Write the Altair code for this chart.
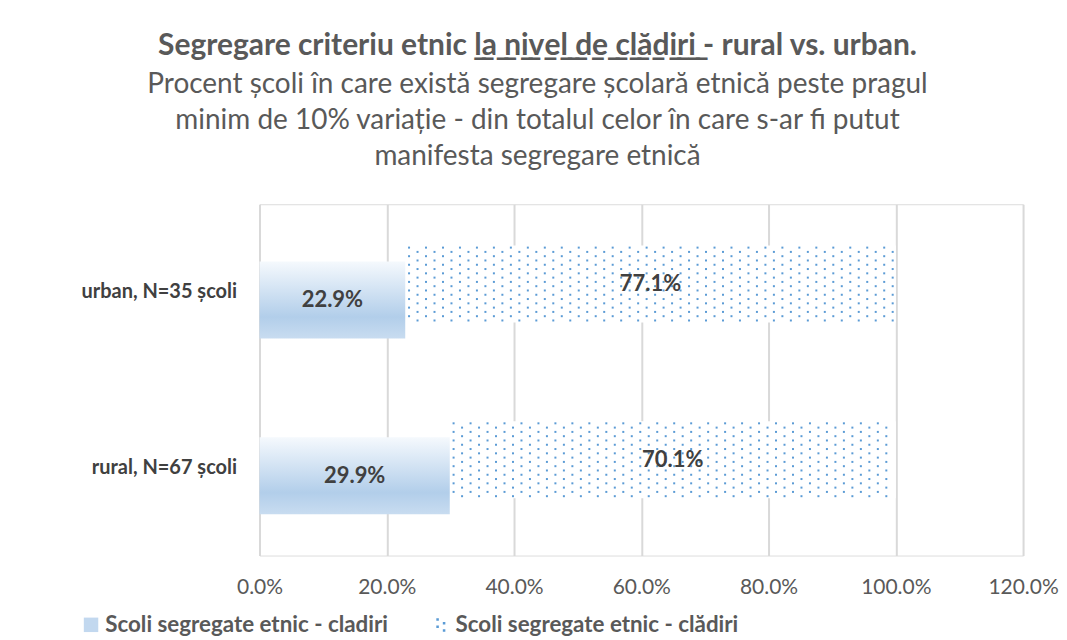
import altair as alt
import pandas as pd

# ---- data ----
categories = ["urban, N=35 școli", "rural, N=67 școli"]
series_names = ["Scoli segregate etnic - cladiri", "Scoli segregate etnic - clădiri"]
seg_values = [22.9, 29.9]      # gradient series (%)
rest_values = [77.1, 70.1]     # dotted series (%)
x_ticks = [0, 20, 40, 60, 80, 100, 120]

UL = "\u0332"  # combining low line, used to underline part of the title
title_line = ("Segregare criteriu etnic " + UL + "".join(c + UL for c in "la nivel de clădiri")
              + " - rural vs. urban.")
subtitle_lines = [
    "Procent școli în care există segregare școlară etnică peste pragul",
    "minim de 10% variație - din totalul celor în care s-ar fi putut",
    "manifesta segregare etnică",
]

FONT = "Lato"
GREY = "#595959"
DARK = "#404040"
DOT_BLUE = "#5B9BD5"

# ---- tables ----
ends = [s + r for s, r in zip(seg_values, rest_values)]
seg_df = pd.DataFrame({
    "cat": categories,
    "x0": [0.0] * len(categories),
    "x1": [v / 100 for v in seg_values],
    "label": [f"{v:.1f}%" for v in seg_values],
})
rest_df = pd.DataFrame({
    "cat": categories,
    "x0": [v / 100 for v in seg_values],
    "x1": [v / 100 for v in ends],
    "label": [f"{v:.1f}%" for v in rest_values],
})

# dot texture for the patterned series (decorative fill of each bar's extent)
tex = []
n_rows = 18
for cat, s, e in zip(categories, seg_values, ends):
    for r in range(n_rows):
        x = s + 0.6 + (1.333 if r % 2 else 0.0)
        while x < e - 0.3:
            tex.append({"cat": cat, "row": r, "x": x / 100})
            x += 2.667
tex_df = pd.DataFrame(tex)

legend_df = pd.DataFrame({"series": series_names})

# ---- encodings ----
y_enc = alt.Y(
    "cat:N", sort=categories, title=None,
    scale=alt.Scale(paddingInner=0.5625, paddingOuter=0.281),
    axis=alt.Axis(labelFont=FONT, labelFontSize=20, labelFontWeight="bold",
                  labelColor=DARK, labelPadding=23, ticks=False, domain=False,
                  grid=False, labelLimit=400),
)
x_scale = alt.Scale(domain=[0, 1.2], nice=False)
x_axis = alt.Axis(values=[t / 100 for t in x_ticks], format=".1%", labelFont=FONT,
                  labelFontSize=21, labelColor=GREY, labelPadding=21, ticks=False,
                  labelFlush=False, labelOverlap=False,
                  domain=False, grid=True, gridColor="#D9D9D9", gridWidth=2, title=None)

gradient = alt.Gradient(
    gradient="linear", x1=0, y1=0, x2=0, y2=1,
    stops=[alt.GradientStop(color="#F5F9FD", offset=0),
           alt.GradientStop(color="#B2CEEA", offset=0.72),
           alt.GradientStop(color="#C8DCF0", offset=1)],
)

seg_bar = alt.Chart(seg_df).mark_bar(fill=gradient, yOffset=8).encode(
    x=alt.X("x0:Q", scale=x_scale, axis=x_axis), x2="x1:Q", y=y_enc)

rest_bar = alt.Chart(rest_df).mark_bar(fill="white", yOffset=-8).encode(
    x=alt.X("x0:Q", scale=x_scale, axis=x_axis), x2="x1:Q", y=y_enc)

dots = alt.Chart(tex_df).mark_square(size=4, color=DOT_BLUE, opacity=1).encode(
    x=alt.X("x:Q", scale=x_scale, axis=x_axis),
    y=y_enc,
    yOffset=alt.YOffset("row:O", scale=alt.Scale(type="point", padding=0, range=[-6, 67])),
)

seg_text = alt.Chart(seg_df).transform_calculate(mid="(datum.x0+datum.x1)/2").mark_text(
    font=FONT, fontSize=22, fontWeight="bold", color=DARK, yOffset=8, baseline="middle"
).encode(x=alt.X("mid:Q", scale=x_scale, axis=x_axis), y=y_enc, text="label:N")

rest_text = alt.Chart(rest_df).transform_calculate(mid="(datum.x0+datum.x1)/2").mark_text(
    font=FONT, fontSize=22, fontWeight="bold", color=DARK, yOffset=-8, baseline="middle"
).encode(x=alt.X("mid:Q", scale=x_scale, axis=x_axis), y=y_enc, text="label:N")

dots_path = ("M-0.7,-0.9h0.35v0.35h-0.35Z M-0.7,0.1h0.35v0.35h-0.35Z "
             "M0.2,-0.4h0.35v0.35h-0.35Z M0.2,0.6h0.35v0.35h-0.35Z")

legend_layer = alt.Chart(legend_df).mark_point(filled=True, opacity=0).encode(
    color=alt.Color("series:N", sort=series_names,
                    scale=alt.Scale(domain=series_names, range=["#C2D8EF", DOT_BLUE]),
                    legend=alt.Legend(
                        title=None, orient="none", legendX=-180, legendY=410,
                        direction="horizontal", columns=2, columnPadding=42,
                        labelFont=FONT, labelFontSize=22.4, labelFontWeight="bold",
                        labelColor=GREY, symbolSize=210, symbolOpacity=1,
                        symbolStrokeWidth=0, labelOffset=3, labelLimit=500)),
    shape=alt.Shape("series:N", sort=series_names,
                    scale=alt.Scale(domain=series_names, range=["square", dots_path]),
                    legend=None),
)

chart = alt.layer(rest_bar, dots, seg_bar, seg_text, rest_text, legend_layer).resolve_scale(
    yOffset="independent"
).properties(
    width=765, height=352,
    padding={"left": 72, "top": 22, "right": 0, "bottom": 5},
    title=alt.TitleParams(
        text=title_line, subtitle=subtitle_lines, anchor="middle", dx=-104,
        font=FONT, fontSize=30, fontWeight="bold", color=GREY,
        subtitleFont=FONT, subtitleFontSize=28, subtitleColor=GREY,
        subtitleLineHeight=36, subtitlePadding=11, offset=33,
    ),
).configure_view(stroke=None).configure(background="white")

chart.save("out.html", embed_options={"renderer": "svg", "actions": False})
